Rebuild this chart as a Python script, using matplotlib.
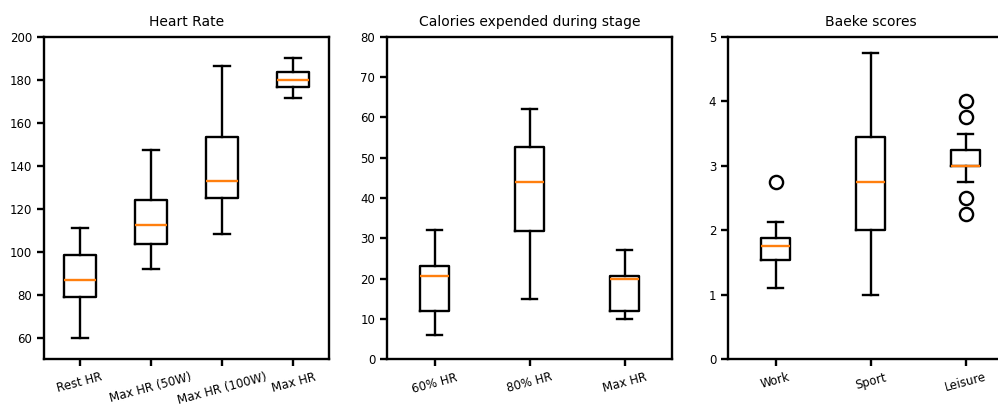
import matplotlib
matplotlib.use("Agg")
import matplotlib.pyplot as plt

# Heart rate panel
hr_labels = ["Rest HR", "Max HR (50W)", "Max HR (100W)", "Max HR"]
hr_whislo = [60, 92, 108, 171.5]
hr_q1 = [79, 103.5, 125, 176.5]
hr_med = [87, 112.5, 133, 180]
hr_q3 = [98.5, 124, 153.5, 183.5]
hr_whishi = [111, 147.5, 186.5, 190]
hr_fliers = [[], [], [], []]

# Calories panel
cal_labels = ["60% HR", "80% HR", "Max HR"]
cal_whislo = [6, 15, 10]
cal_q1 = [12, 31.7, 12]
cal_med = [20.5, 44, 20]
cal_q3 = [23, 52.7, 20.7]
cal_whishi = [32, 62, 27]
cal_fliers = [[], [], []]

# Baeke panel
bk_labels = ["Work", "Sport", "Leisure"]
bk_whislo = [1.11, 1.0, 2.75]
bk_q1 = [1.53, 2.0, 3.0]
bk_med = [1.75, 2.75, 3.0]
bk_q3 = [1.875, 3.44, 3.25]
bk_whishi = [2.125, 4.75, 3.5]
bk_fliers = [[2.75], [], [4.0, 3.75, 2.5, 2.25]]

plt.rcParams['font.family'] = ['DejaVu Sans']
plt.rcParams['font.size'] = 8.5

W, H = 998, 408
fig = plt.figure(figsize=(W / 100, H / 100), dpi=100)

def make_stats(labels, lo, q1, med, q3, hi, fl):
    return [dict(label=l, whislo=a, q1=b, med=c, q3=d, whishi=e, fliers=f)
            for l, a, b, c, d, e, f in zip(labels, lo, q1, med, q3, hi, fl)]

lw = 1.7
box_kw = dict(
    boxprops=dict(linewidth=lw, color='black'),
    whiskerprops=dict(linewidth=lw, color='black'),
    capprops=dict(linewidth=lw, color='black'),
    medianprops=dict(linewidth=lw, color='#ff7f0e'),
    flierprops=dict(marker='o', markersize=9.5, markerfacecolor='none',
                    markeredgecolor='black', markeredgewidth=lw),
)

panels = [
    (44, "Heart Rate", make_stats(hr_labels, hr_whislo, hr_q1, hr_med, hr_q3, hr_whishi, hr_fliers), (50, 200), range(60, 201, 20)),
    (387, "Calories expended during stage", make_stats(cal_labels, cal_whislo, cal_q1, cal_med, cal_q3, cal_whishi, cal_fliers), (0, 80), range(0, 81, 10)),
    (728, "Baeke scores", make_stats(bk_labels, bk_whislo, bk_q1, bk_med, bk_q3, bk_whishi, bk_fliers), (0, 5), range(0, 6)),
]

top, bottom = 37, 359
for left, title, stats, ylim, yticks in panels:
    ax = fig.add_axes([left / W, (H - bottom) / H, 285 / W, (bottom - top) / H])
    n = len(stats)
    ax.bxp(stats, widths=min(0.15 * max(n - 1, 1), 0.5), **box_kw)
    ax.set_ylim(*ylim)
    ax.set_yticks(list(yticks))
    ax.set_title(title, fontsize=10, pad=8)
    for lbl in ax.get_xticklabels():
        lbl.set_rotation(15)
    for s in ax.spines.values():
        s.set_linewidth(lw)
    ax.tick_params(width=lw, length=5)

fig.savefig("out.png", dpi=100)
